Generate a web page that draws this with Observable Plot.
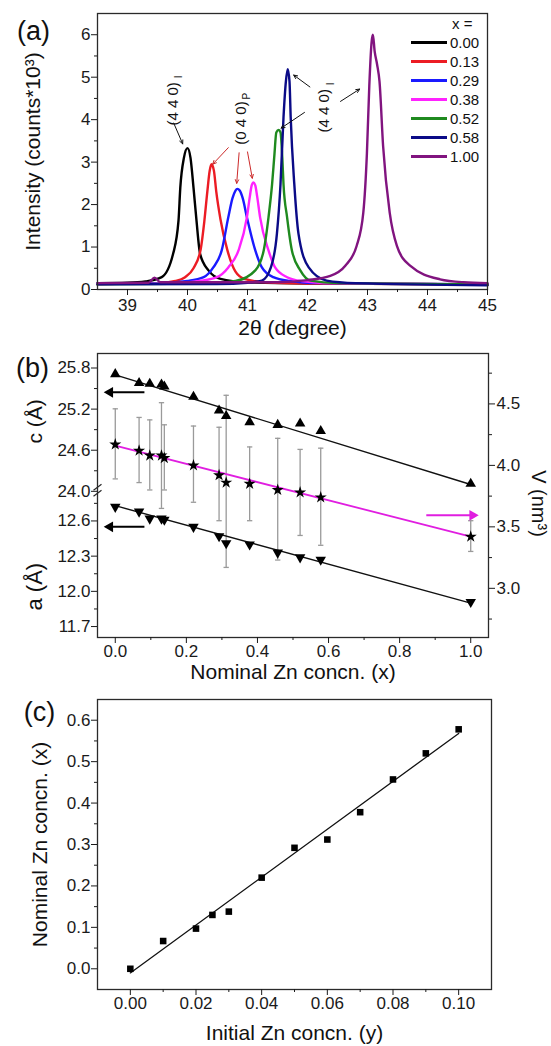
<!DOCTYPE html>
<html>
<head>
<meta charset="utf-8">
<script src="https://cdn.jsdelivr.net/npm/d3@7"></script>
<script src="https://cdn.jsdelivr.net/npm/@observablehq/plot@0.6"></script>
<style>
  html, body { margin: 0; padding: 0; background: #fff; }
  #figure { position: relative; width: 551px; height: 1046px; font-family: "Liberation Sans", Arial, sans-serif; color: #111; }
  #figure svg { display: block; }
  .legend { position: absolute; left: 411px; top: 14px; font-size: 15px; line-height: 19px; white-space: nowrap; }
  .legend .row { display: flex; align-items: center; height: 19px; }
  .legend .swatch { width: 36px; height: 3px; margin-right: 3px; }
  .legend .head { padding-left: 41px; }
</style>
</head>
<body>
<div id="figure"></div>
<script>
// ---------- (a) XRD scans around the spinel (4 4 0) / (0 4 0) reflections ----------
const compositions = ["0.00", "0.13", "0.29", "0.38", "0.52", "0.58", "1.00"];
const scanColors = ["#000000", "#ec1c24", "#1a1aff", "#ff22ff", "#1f8a1f", "#0b0b87", "#81147f"];

const theta_000 = [38.5, 39.0, 39.3, 39.57, 39.76, 39.85, 39.88, 39.94, 40.0, 40.05, 40.1, 40.15, 40.21, 40.35, 40.55, 41.0, 42.0, 45.0];
const counts_000 = [0.15, 0.16, 0.19, 0.29, 0.84, 1.62, 2.40, 3.10, 3.33, 3.10, 2.40, 1.62, 0.84, 0.45, 0.25, 0.17, 0.14, 0.12];

const theta_013 = [38.5, 39.5, 39.8, 39.96, 40.1, 40.22, 40.28, 40.33, 40.37, 40.40, 40.44, 40.48, 40.55, 40.66, 40.80, 40.95, 41.3, 42.0, 45.0];
const counts_013 = [0.13, 0.15, 0.20, 0.29, 0.50, 0.95, 1.60, 2.30, 2.80, 2.95, 2.80, 2.30, 1.65, 0.95, 0.42, 0.25, 0.17, 0.14, 0.12];

const theta_029 = [38.5, 39.5, 40.0, 40.27, 40.43, 40.57, 40.68, 40.75, 40.80, 40.83, 40.87, 40.92, 40.99, 41.13, 41.24, 41.43, 41.7, 42.2, 45.0];
const counts_029 = [0.14, 0.15, 0.20, 0.29, 0.52, 0.92, 1.70, 2.15, 2.33, 2.37, 2.33, 2.15, 1.70, 0.92, 0.52, 0.29, 0.20, 0.15, 0.12];

const theta_038 = [38.5, 39.8, 40.2, 40.49, 40.68, 40.85, 40.99, 41.04, 41.07, 41.10, 41.13, 41.16, 41.21, 41.35, 41.46, 41.66, 41.9, 42.4, 45.0];
const counts_038 = [0.13, 0.15, 0.20, 0.29, 0.52, 0.92, 1.70, 2.20, 2.45, 2.52, 2.45, 2.20, 1.70, 0.92, 0.52, 0.29, 0.20, 0.15, 0.12];

const theta_052 = [38.5, 40.3, 40.8, 41.13, 41.27, 41.35, 41.41, 41.45, 41.48, 41.52, 41.55, 41.58, 41.60, 41.66, 41.74, 41.88, 42.05, 42.5, 45.0];
const counts_052 = [0.12, 0.14, 0.20, 0.45, 0.92, 1.70, 2.48, 3.20, 3.70, 3.76, 3.70, 3.10, 2.48, 1.70, 0.92, 0.45, 0.21, 0.15, 0.12];

const theta_058 = [38.5, 40.5, 41.0, 41.24, 41.39, 41.49, 41.55, 41.60, 41.64, 41.67, 41.70, 41.72, 41.78, 41.85, 42.02, 42.32, 42.8, 45.0];
const counts_058 = [0.12, 0.13, 0.16, 0.21, 0.52, 1.31, 2.48, 4.05, 4.90, 5.19, 4.90, 4.05, 2.48, 1.31, 0.52, 0.21, 0.15, 0.10];

const theta_100 = [38.5, 39.35, 39.45, 39.55, 41.5, 42.0, 42.38, 42.63, 42.82, 42.93, 42.99, 43.03, 43.07, 43.09, 43.12, 43.16, 43.20, 43.26, 43.37, 43.49, 43.71, 44.21, 44.6, 45.0];
const counts_100 = [0.15, 0.16, 0.28, 0.17, 0.17, 0.22, 0.32, 0.56, 1.03, 1.81, 3.20, 4.80, 5.85, 6.00, 5.60, 5.30, 4.90, 3.38, 1.81, 1.03, 0.56, 0.24, 0.17, 0.15];

// reflection labels (text, subscript, position in 2θ / counts)
const peakNoteText = ["(4 4 0)", "(0 4 0)", "(4 4 0)"];
const peakNoteSub = ["I", "P", "I"];
const peakNoteTheta = [39.76, 40.89, 42.28];
const peakNoteCounts = [4.37, 3.92, 4.21];

// pointer arrows from the labels to the peaks
const pointerFromTheta = [39.77, 40.68, 40.86, 41.00, 42.04, 41.95, 42.55];
const pointerFromCounts = [3.92, 3.34, 3.22, 3.24, 4.77, 4.17, 4.43];
const pointerToTheta = [39.92, 40.42, 40.82, 41.08, 41.77, 41.56, 42.87];
const pointerToCounts = [3.43, 2.95, 2.50, 2.62, 5.05, 3.80, 4.72];
const pointerColors = ["#111", "#cc2a2a", "#cc2a2a", "#cc2a2a", "#111", "#111", "#111"];

// ---------- (b) lattice parameters and cell volume vs nominal Zn content ----------
const nominalX = [0, 0.067, 0.097, 0.13, 0.138, 0.22, 0.292, 0.312, 0.378, 0.457, 0.52, 0.578, 1.0];
const latticeC = [25.71, 25.58, 25.57, 25.56, 25.53, 25.38, 25.18, 25.10, 25.01, 24.97, 24.99, 24.88, 24.11];
const latticeA = [12.72, 12.68, 12.62, 12.62, 12.61, 12.55, 12.47, 12.41, 12.40, 12.33, 12.29, 12.27, 11.91];
const cellVolume = [4.17, 4.12, 4.08, 4.08, 4.06, 4.00, 3.92, 3.86, 3.85, 3.80, 3.78, 3.74, 3.42];
const volumeLow = [3.89, 3.86, 3.80, 3.65, 3.80, 3.70, 3.55, 3.17, 3.55, 3.23, 3.43, 3.35, 3.30];
const volumeHigh = [4.46, 4.39, 4.37, 4.51, 4.33, 4.32, 4.31, 4.57, 4.15, 4.22, 4.13, 4.14, 3.55];

const fitEndsX = [0, 1];
const fitEndsC = [25.70, 24.10];
const fitEndsA = [12.73, 11.90];
const fitEndsV = [4.16, 3.42];

// axis-pointer arrows: which axis each data set belongs to
const cPointer = {c: 25.445, from: 0.082, to: -0.015};
const aPointer = {a: 12.55, from: 0.082, to: -0.015};
const vPointer = {v: 3.594, from: 0.875, to: 1.005};

// tick values
const cTicks = [24.0, 24.6, 25.2, 25.8];
const cMinor = [24.3, 24.9, 25.5];
const aTicks = [11.7, 12.0, 12.3, 12.6];
const aMinor = [11.85, 12.15, 12.45, 12.75];
const vTicks = [3.0, 3.5, 4.0, 4.5];
const vMinor = [2.75, 3.25, 3.75, 4.25, 4.75];

// ---------- (c) nominal vs initial Zn concentration ----------
const initialY = [0, 0.01, 0.02, 0.025, 0.03, 0.04, 0.05, 0.06, 0.07, 0.08, 0.09, 0.10];
const nominalFromInitial = [0.0, 0.067, 0.097, 0.13, 0.138, 0.22, 0.292, 0.312, 0.378, 0.457, 0.52, 0.578];
const fitEndsInitial = [0, 0.10];
const fitEndsNominal = [-0.01, 0.568];

// ---------------------------------------------------------------------------
const FONT = '"Liberation Sans", Arial, sans-serif';
const baseStyle = {fontFamily: FONT, fontSize: "17px", color: "#1a1a1a", background: "transparent", overflow: "visible"};
const frameMark = () => Plot.frame({stroke: "#2a2a2a", strokeWidth: 1.3});
const blank = () => "";
const centered = {textAnchor: "middle", lineAnchor: "middle", fill: "#111"};

const majorX = (values, fmt, pad = 3) => Plot.axisX(values, {anchor: "bottom", tickSize: 6, tickPadding: pad, tickFormat: fmt, label: null});
const minorX = (values) => Plot.axisX(values, {anchor: "bottom", tickSize: 3, tickFormat: blank, label: null});
const majorY = (values, fmt, anchor = "left", pad = 1) => Plot.axisY(values, {anchor, tickSize: 6, tickPadding: pad, tickFormat: fmt, label: null});
const minorY = (values, anchor = "left") => Plot.axisY(values, {anchor, tickSize: 3, tickFormat: blank, label: null});

const figure = document.getElementById("figure");

// ---------- panel (a) ----------
const scans = [theta_000, theta_013, theta_029, theta_038, theta_052, theta_058, theta_100]
  .map((theta, k) => ({label: compositions[k], theta, counts: [counts_000, counts_013, counts_029, counts_038, counts_052, counts_058, counts_100][k]}));
const scanRows = scans.flatMap(s => s.theta.map((t, i) => ({theta: t, counts: s.counts[i], x: s.label})));
const notes = peakNoteText.map((t, i) => ({text: t, sub: peakNoteSub[i], theta: peakNoteTheta[i], counts: peakNoteCounts[i]}));
const pointers = pointerFromTheta.map((t, i) => ({x1: t, y1: pointerFromCounts[i], x2: pointerToTheta[i], y2: pointerToCounts[i], color: pointerColors[i]}));

const plotA = Plot.plot({
  width: 551, height: 340,
  marginTop: 13, marginBottom: 51, marginLeft: 97, marginRight: 64,
  style: baseStyle,
  x: {domain: [38.5, 45]},
  y: {domain: [0, 6.5]},
  color: {domain: compositions, range: scanColors},
  marks: [
    Plot.line(scanRows, {x: "theta", y: "counts", z: "x", stroke: "x", strokeWidth: 2.4, curve: "monotone-x", strokeLinejoin: "round"}),
    Plot.arrow(pointers, {x1: "x1", y1: "y1", x2: "x2", y2: "y2", stroke: d => d.color, strokeWidth: 1, headLength: 6, headAngle: 50}),
    Plot.text(notes, {x: "theta", y: "counts", text: "text", rotate: -90, fontSize: 15, ...centered}),
    Plot.text(notes, {x: "theta", y: "counts", text: "sub", rotate: -90, fontSize: 10, dx: 6, dy: -27, ...centered}),
    frameMark(),
    majorX(d3.range(39, 46), d3.format("d")),
    minorX(d3.range(39.5, 45, 1)),
    majorY(d3.range(0, 7), d3.format("d")),
    minorY(d3.range(0.5, 6.5, 1)),
    Plot.text(["2θ (degree)"], {frameAnchor: "bottom", dy: 39, fontSize: 21, ...centered}),
    Plot.text(["Intensity (counts*10³)"], {frameAnchor: "left", dx: -64, rotate: -90, fontSize: 21, ...centered}),
    Plot.text(["(a)"], {frameAnchor: "top-left", dx: -64, dy: 18, fontSize: 27, ...centered})
  ]
});
figure.append(plotA);

// legend for the scans
const legend = document.createElement("div");
legend.className = "legend";
legend.innerHTML = `<div class="row head">x =</div>` + compositions.map((c, i) =>
  `<div class="row"><span class="swatch" style="background:${scanColors[i]}"></span><span>${c}</span></div>`).join("");
figure.append(legend);

// ---------- panel (b) ----------
// the left axis is broken: c (Å) on the upper part, a (Å) on the lower part,
// both expressed on the cell-volume (right) axis
const breakV = 3.789;
const cToV = d3.scaleLinear().domain([24.0, 25.8]).range([breakV, 4.792]);
const aToV = d3.scaleLinear().domain([11.7, 12.6]).range([2.689, 3.548]);

const cells = nominalX.map((x, i) => ({x, c: latticeC[i], a: latticeA[i], v: cellVolume[i], lo: volumeLow[i], hi: volumeHigh[i]}));
const fits = fitEndsX.map((x, i) => ({x, c: fitEndsC[i], a: fitEndsA[i], v: fitEndsV[i]}));

const capSymbol = {draw(ctx, size) { const w = Math.sqrt(size) / 2; ctx.moveTo(-w, 0); ctx.lineTo(w, 0); }};
const breakSymbol = {draw(ctx) { ctx.moveTo(-4, -1); ctx.lineTo(4, -7); ctx.moveTo(-4, 5); ctx.lineTo(4, -1); }};

const plotB = Plot.plot({
  width: 551, height: 350,
  marginTop: 13, marginBottom: 53, marginLeft: 97, marginRight: 63,
  style: baseStyle,
  x: {domain: [-0.05, 1.05]},
  y: {domain: [2.6, 4.91]},
  marks: [
    Plot.ruleX(cells, {x: "x", y1: "lo", y2: "hi", stroke: "#9a9a9a", strokeWidth: 1.3}),
    Plot.dot(cells, {x: "x", y: "hi", symbol: capSymbol, r: 3, stroke: "#9a9a9a", strokeWidth: 1.3, fill: "none"}),
    Plot.dot(cells, {x: "x", y: "lo", symbol: capSymbol, r: 3, stroke: "#9a9a9a", strokeWidth: 1.3, fill: "none"}),
    Plot.line(fits, {x: "x", y: d => cToV(d.c), stroke: "#111", strokeWidth: 1.4}),
    Plot.line(fits, {x: "x", y: d => aToV(d.a), stroke: "#111", strokeWidth: 1.4}),
    Plot.line(fits, {x: "x", y: "v", stroke: "#e01ee0", strokeWidth: 1.8}),
    Plot.dot(cells, {x: "x", y: d => cToV(d.c), symbol: "triangle", r: 3.9, fill: "#000"}),
    Plot.dot(cells, {x: "x", y: d => aToV(d.a), symbol: "triangle", rotate: 180, r: 3.9, fill: "#000"}),
    Plot.dot(cells, {x: "x", y: "v", symbol: "star", r: 3.8, fill: "#000"}),
    // axis pointers
    Plot.link([cPointer], {x1: "from", x2: "to", y1: d => cToV(d.c), y2: d => cToV(d.c), stroke: "#000", strokeWidth: 2}),
    Plot.dot([cPointer], {x: "to", y: d => cToV(d.c), symbol: "triangle", rotate: -90, r: 4, fill: "#000"}),
    Plot.link([aPointer], {x1: "from", x2: "to", y1: d => aToV(d.a), y2: d => aToV(d.a), stroke: "#000", strokeWidth: 2}),
    Plot.dot([aPointer], {x: "to", y: d => aToV(d.a), symbol: "triangle", rotate: -90, r: 4, fill: "#000"}),
    Plot.link([vPointer], {x1: "from", x2: "to", y1: "v", y2: "v", stroke: "#e01ee0", strokeWidth: 2}),
    Plot.dot([vPointer], {x: "to", y: "v", symbol: "triangle", rotate: 90, r: 4, fill: "#e01ee0"}),
    frameMark(),
    Plot.dot([breakV], {x: () => -0.05, y: d => d, symbol: breakSymbol, r: 3, stroke: "#2a2a2a", strokeWidth: 1.2, fill: "none"}),
    majorX(d3.range(0, 1.01, 0.2), d3.format(".1f"), 1),
    minorX(d3.range(0.1, 1.0, 0.2)),
    majorY(cTicks.map(cToV), v => cToV.invert(v).toFixed(1)),
    minorY(cMinor.map(cToV)),
    majorY(aTicks.map(aToV), v => aToV.invert(v).toFixed(1)),
    minorY(aMinor.map(aToV)),
    majorY(vTicks, d3.format(".1f"), "right", 2),
    minorY(vMinor, "right"),
    Plot.text(["Nominal Zn concn. (x)"], {frameAnchor: "bottom", dy: 35, fontSize: 21, ...centered}),
    Plot.text(["c (Å)"], {frameAnchor: "left", y: () => cToV(25.02), dx: -62, rotate: -90, fontSize: 21, ...centered}),
    Plot.text(["a (Å)"], {frameAnchor: "left", y: () => aToV(12.04), dx: -63, rotate: -90, fontSize: 22, ...centered}),
    Plot.text(["V (nm³)"], {frameAnchor: "right", y: () => 3.69, dx: 50, rotate: 90, fontSize: 20, ...centered}),
    Plot.text(["(b)"], {frameAnchor: "top-left", dx: -65, dy: 15, fontSize: 27, ...centered})
  ]
});
figure.append(plotB);

// ---------- panel (c) ----------
const samples = initialY.map((y, i) => ({y, x: nominalFromInitial[i]}));
const trend = fitEndsInitial.map((y, i) => ({y, x: fitEndsNominal[i]}));

const plotC = Plot.plot({
  width: 551, height: 356,
  marginTop: 9, marginBottom: 57, marginLeft: 97, marginRight: 60,
  style: baseStyle,
  x: {domain: [-0.01, 0.11]},
  y: {domain: [-0.05, 0.65]},
  marks: [
    Plot.line(trend, {x: "y", y: "x", stroke: "#111", strokeWidth: 1.3}),
    Plot.dot(samples, {x: "y", y: "x", symbol: "square", r: 3.7, fill: "#000"}),
    frameMark(),
    majorX(d3.range(0, 0.101, 0.02), d3.format(".2f"), 1),
    minorX(d3.range(0.01, 0.1, 0.02)),
    majorY(d3.range(0, 0.61, 0.1), d3.format(".1f")),
    minorY(d3.range(0.05, 0.6, 0.1)),
    Plot.text(["Initial Zn concn. (y)"], {frameAnchor: "bottom", dy: 44, fontSize: 21, ...centered}),
    Plot.text(["Nominal Zn concn. (x)"], {frameAnchor: "left", dx: -57, rotate: -90, fontSize: 21, ...centered}),
    Plot.text(["(c)"], {frameAnchor: "top-left", dx: -58, dy: 13, fontSize: 27, ...centered})
  ]
});
figure.append(plotC);
</script>
</body>
</html>
